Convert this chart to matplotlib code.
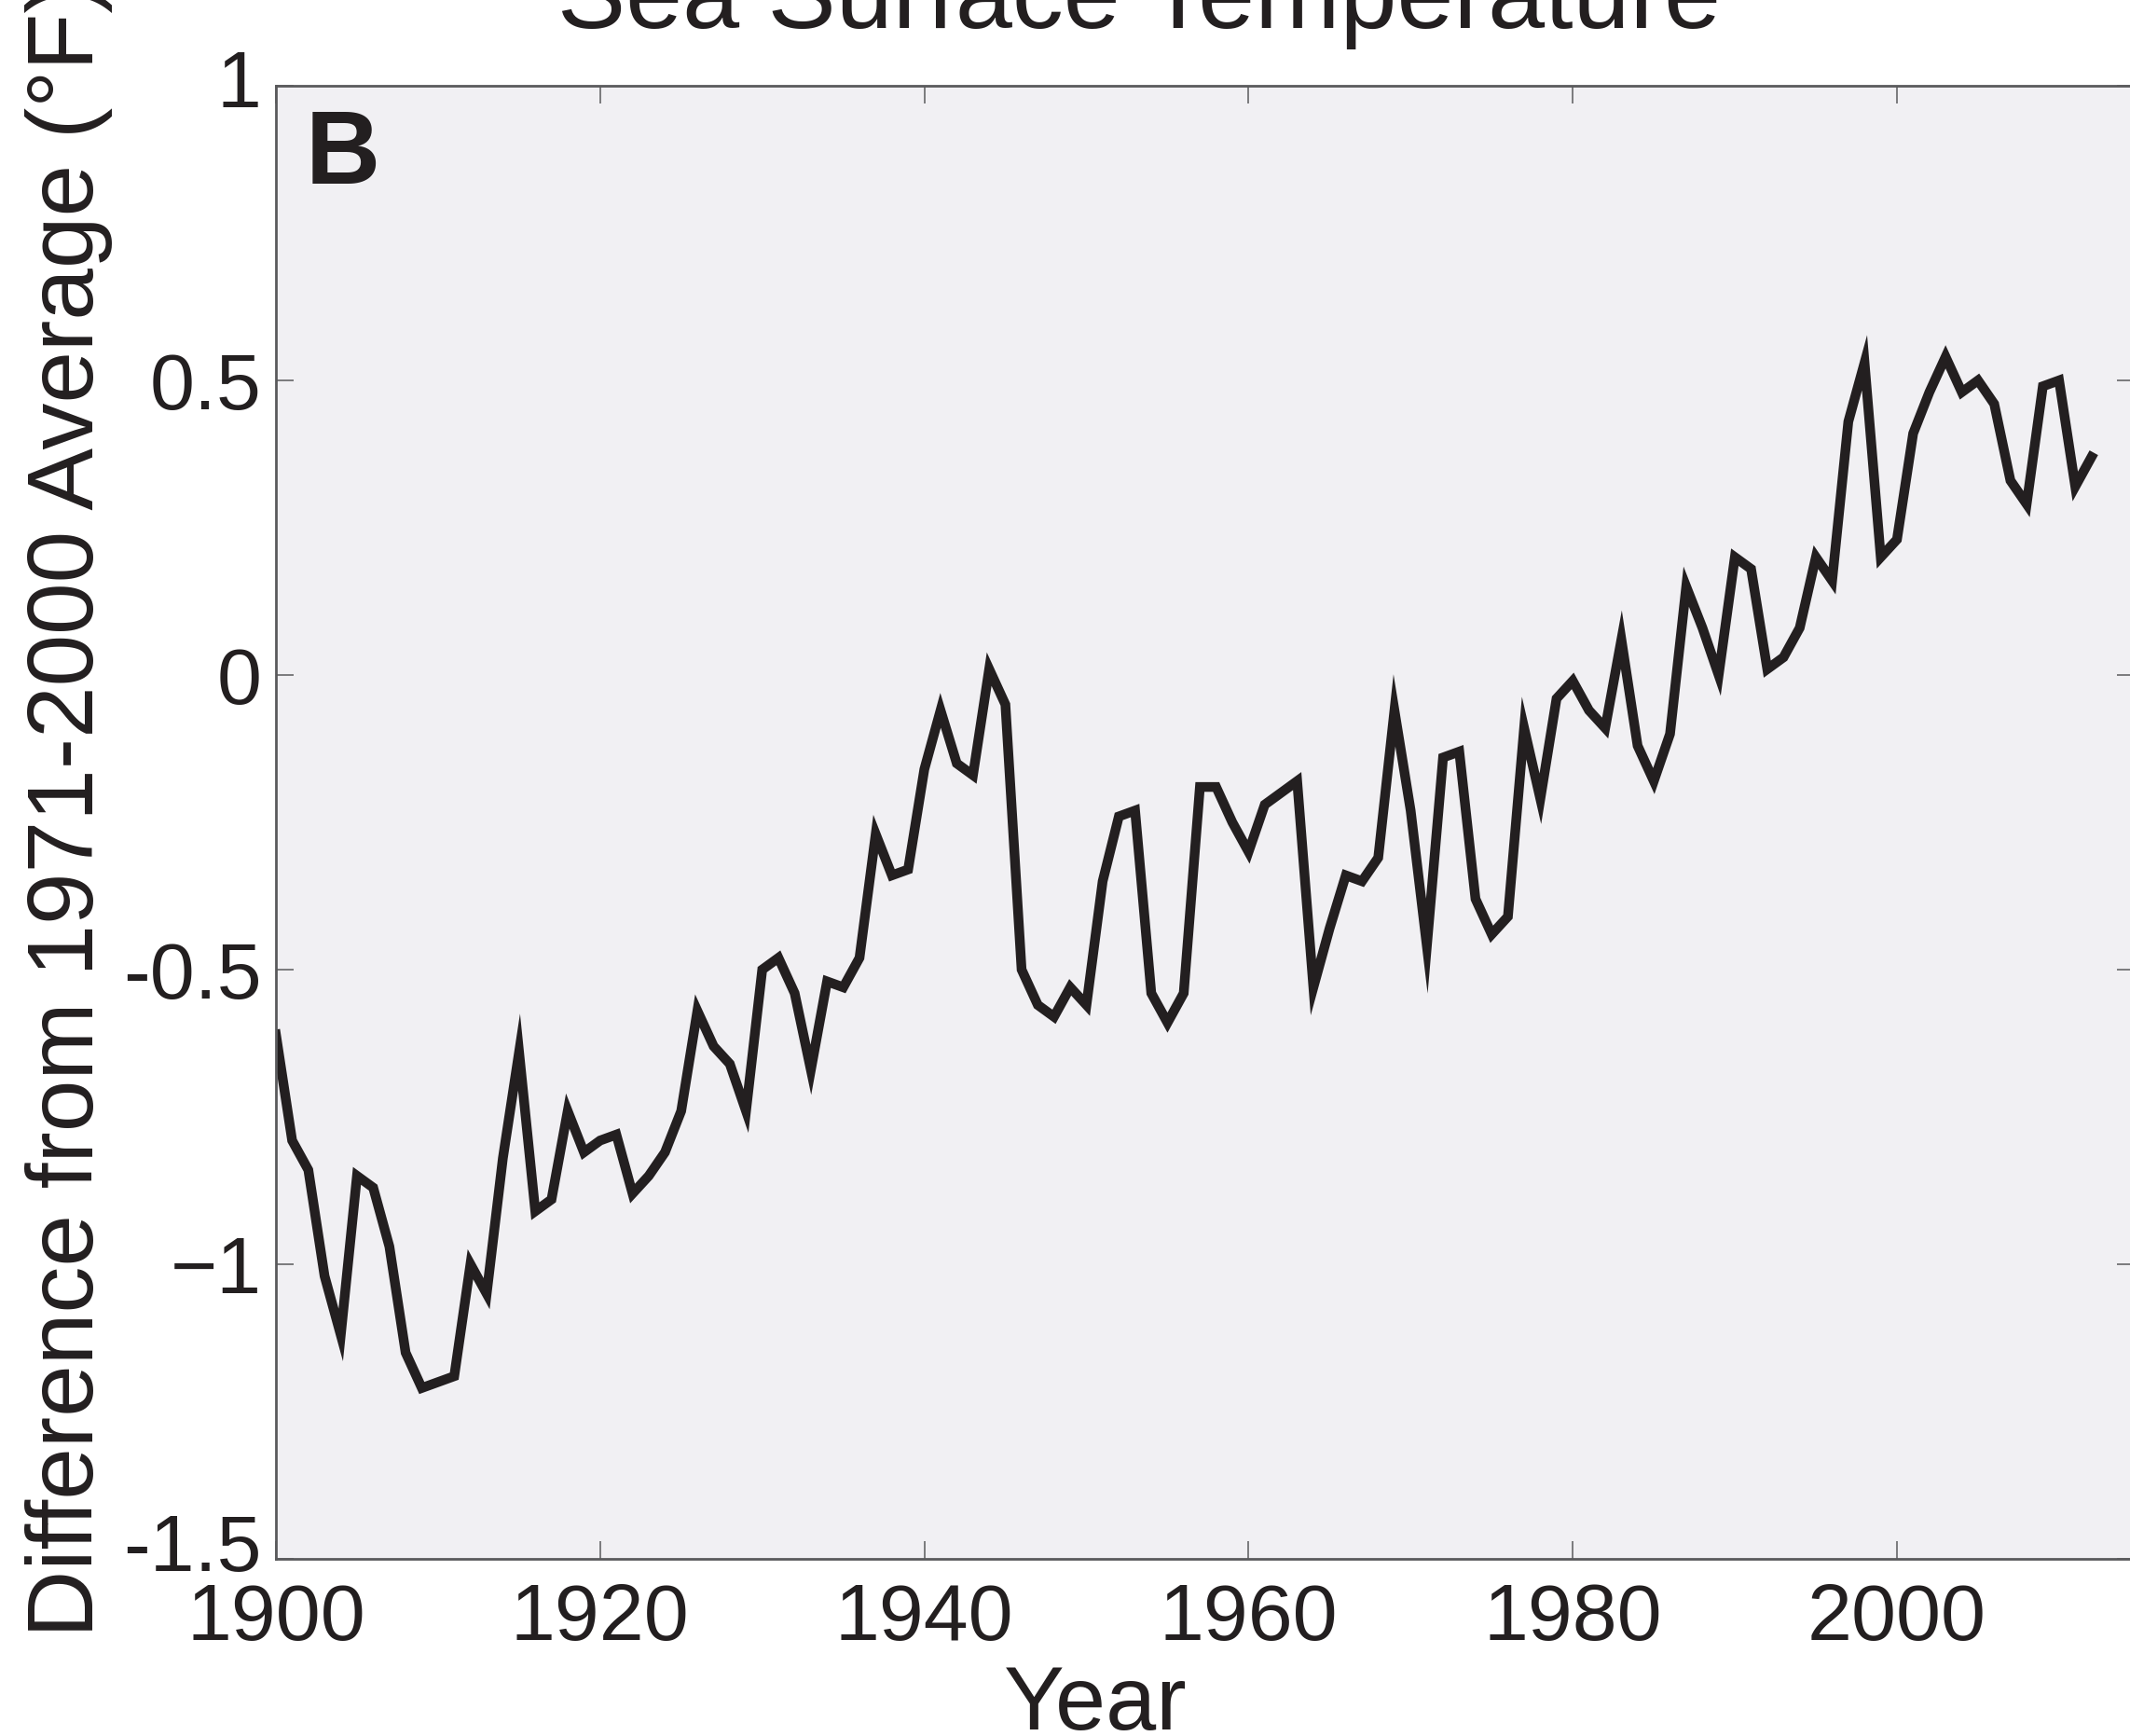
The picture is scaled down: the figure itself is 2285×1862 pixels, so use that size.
import numpy as np
import matplotlib.pyplot as plt
import matplotlib.transforms as mtransforms

# annual sea surface temperature anomaly, 1900-2012 (deg F, vs 1971-2000 average)
years = np.arange(1900, 2013)
anomaly = [
    -0.61, -0.79, -0.84, -1.02, -1.12, -0.85, -0.87, -0.97, -1.15, -1.21,  # 1900s
    -1.20, -1.19, -1.00, -1.05, -0.82, -0.64, -0.91, -0.89, -0.74, -0.81,  # 1910s
    -0.79, -0.78, -0.88, -0.85, -0.81, -0.74, -0.57, -0.63, -0.66, -0.74,  # 1920s
    -0.50, -0.48, -0.54, -0.67, -0.52, -0.53, -0.48, -0.27, -0.34, -0.33,  # 1930s
    -0.16, -0.06, -0.15, -0.17, 0.01, -0.05, -0.50, -0.56, -0.58, -0.53,   # 1940s
    -0.56, -0.35, -0.24, -0.23, -0.54, -0.59, -0.54, -0.19, -0.19, -0.25,  # 1950s
    -0.30, -0.22, -0.20, -0.18, -0.53, -0.43, -0.34, -0.35, -0.31, -0.06,  # 1960s
    -0.23, -0.46, -0.14, -0.13, -0.38, -0.44, -0.41, -0.09, -0.21, -0.04,  # 1970s
    -0.01, -0.06, -0.09, 0.06, -0.12, -0.18, -0.10, 0.15, 0.08, 0.00,      # 1980s
    0.20, 0.18, 0.01, 0.03, 0.08, 0.20, 0.16, 0.43, 0.53, 0.20,            # 1990s
    0.23, 0.41, 0.48, 0.54, 0.48, 0.50, 0.46, 0.33, 0.29, 0.49,            # 2000s
    0.50, 0.32, 0.37,                                                      # 2010s
]

x_ticks = [1900, 1920, 1940, 1960, 1980, 2000]
y_ticks = [-1.5, -1.0, -0.5, 0.0, 0.5, 1.0]
y_tick_labels = ['-1.5', '\u22121', '-0.5', '0', '0.5', '1']

title = 'Sea Surface Temperature'
ylabel = 'Difference from 1971-2000 Average (\u00b0F)'
xlabel = 'Year'
panel = 'B'

plt.rcParams['font.family'] = ['Liberation Sans Narrow', 'Liberation Sans', 'DejaVu Sans']
ink = '#231f20'
spine_col = '#5a5a5c'

W, H = 2285, 1862
fig = plt.figure(figsize=(W / 100, H / 100), dpi=100)

# axes box in reference pixels (right spine sits just past the image edge)
left, right, top, bottom = 296, 2290, 92, 1672
ax = fig.add_axes([left / W, 1 - bottom / H, (right - left) / W, (bottom - top) / H])
ax.set_facecolor('#f1f0f3')

ax.plot(years, anomaly, color=ink, lw=7.5, solid_joinstyle='miter')

ax.set_xlim(1900, 1900 + (right - left) / 17.39)
ax.set_ylim(-1.5, 1.0)
ax.set_xticks(x_ticks)
ax.set_xticklabels([str(t) for t in x_ticks])
ax.set_yticks(y_ticks)
ax.set_yticklabels(y_tick_labels)

ax.tick_params(direction='in', length=13.5, width=1.1, color=spine_col,
               labelsize=62, labelcolor=ink, top=True, right=True)
ax.tick_params(axis='x', pad=18)
ax.tick_params(axis='y', pad=11)
for s in ax.spines.values():
    s.set_color(spine_col)
    s.set_linewidth(2.0)

# end labels on the y axis sit a little higher than their ticks
fig.canvas.draw()
ylabs = ax.get_yticklabels()
ylabs[0].set_transform(ylabs[0].get_transform()
                       + mtransforms.ScaledTranslation(0, 18 / 100, fig.dpi_scale_trans))
ylabs[-1].set_transform(ylabs[-1].get_transform()
                        + mtransforms.ScaledTranslation(0, 8 / 100, fig.dpi_scale_trans))

ax.text(0.016, 0.985, panel, transform=ax.transAxes, ha='left', va='top',
        fontsize=80, fontweight='bold', color=ink,
        family=['Liberation Sans', 'DejaVu Sans'])

fig.text(1222 / W, 1 - 30 / H, title, ha='center', va='baseline',
         fontsize=79, color=ink)
fig.text(74 / W, 1 - 1756 / H, ylabel, rotation=90, ha='center', va='bottom',
         fontsize=72, color=ink)
fig.text(1175 / W, 1 - 1785 / H, xlabel, ha='center', va='top',
         fontsize=70, color=ink)

fig.savefig('out.png', dpi=100, facecolor='white')
